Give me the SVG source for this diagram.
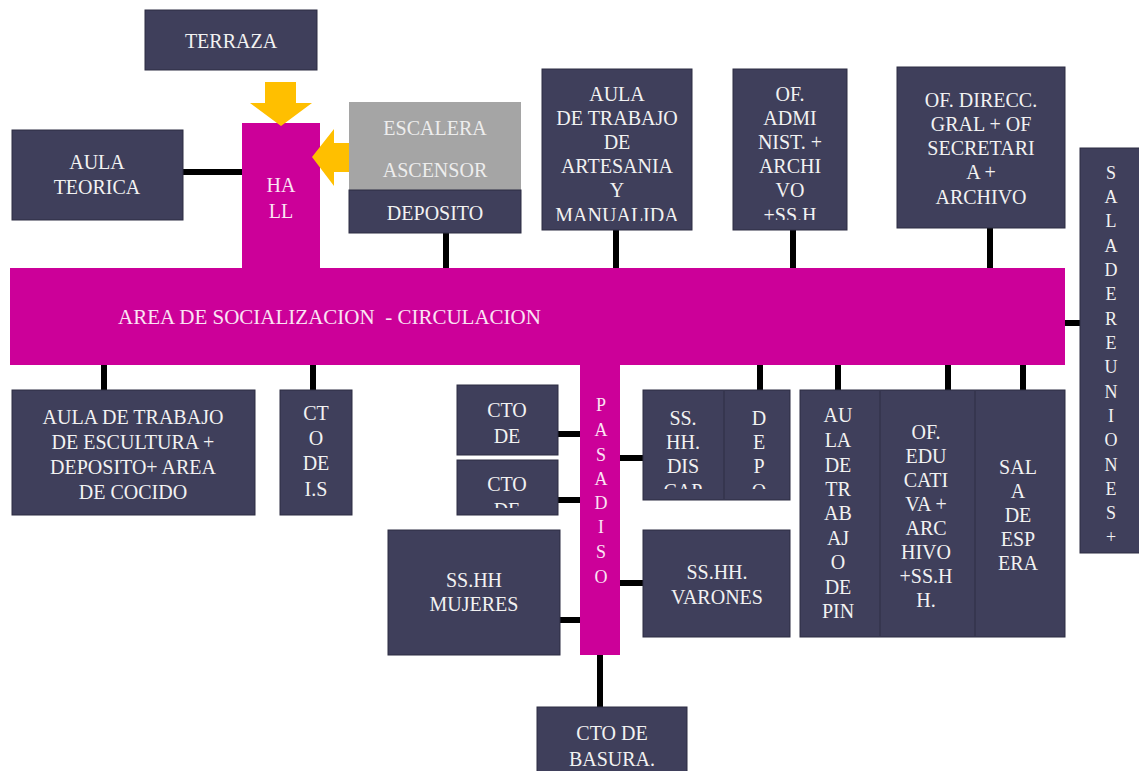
<svg xmlns="http://www.w3.org/2000/svg" width="1139" height="771" viewBox="0 0 1139 771">
<style>
.box{fill:#3f3f5b;stroke:#2c2c42;stroke-width:1}
.mag{fill:#cc0099}
.gray{fill:#a5a5a5}
.t{font-size:20px;fill:#f2f2f2;text-anchor:middle;dominant-baseline:central}
.s{font-size:18px}
.tg{fill:#ededed}
.tm{fill:#fbe3f4}
.arrow{fill:#ffbf00}
.div{stroke:#36364f;stroke-width:2}
.c{stroke:#000;stroke-width:6;fill:none}
</style>
<defs>
<clipPath id="clipArt"><rect x="542" y="69" width="150" height="152"/></clipPath>
<clipPath id="clipAdm"><rect x="733" y="69" width="114" height="151"/></clipPath>
<clipPath id="clipCto2"><rect x="457" y="460" width="101" height="48"/></clipPath>
<clipPath id="clipDis"><rect x="643" y="390" width="147" height="99"/></clipPath>
<clipPath id="clipBas"><rect x="537" y="707" width="150" height="64"/></clipPath>
</defs>
<rect width="1139" height="771" fill="#ffffff"/>

<g id="connectors">
<line class="c" x1="183" y1="172" x2="242" y2="172"/>
<line class="c" x1="446" y1="233" x2="446" y2="268"/>
<line class="c" x1="616" y1="230" x2="616" y2="268"/>
<line class="c" x1="793" y1="230" x2="793" y2="268"/>
<line class="c" x1="990" y1="228" x2="990" y2="268"/>
<line class="c" x1="1065" y1="323" x2="1080" y2="323"/>
<line class="c" x1="104" y1="365" x2="104" y2="390"/>
<line class="c" x1="313" y1="365" x2="313" y2="390"/>
<line class="c" x1="558" y1="434" x2="580" y2="434"/>
<line class="c" x1="558" y1="500" x2="580" y2="500"/>
<line class="c" x1="620" y1="458" x2="643" y2="458"/>
<line class="c" x1="760" y1="365" x2="760" y2="390"/>
<line class="c" x1="620" y1="583" x2="643" y2="583"/>
<line class="c" x1="560" y1="620" x2="580" y2="620"/>
<line class="c" x1="600" y1="655" x2="600" y2="707"/>
<line class="c" x1="838" y1="365" x2="838" y2="390"/>
<line class="c" x1="948" y1="365" x2="948" y2="390"/>
<line class="c" x1="1023" y1="365" x2="1023" y2="390"/>
</g>

<g id="area-socializacion">
<rect class="mag" x="10" y="268" width="1055" height="97"/>
<text font-family="Liberation Serif" class="t tm" x="118" y="317" font-size="21" style="text-anchor:start;font-size:21px" xml:space="preserve">AREA DE SOCIALIZACION  - CIRCULACION</text>
</g>

<g id="hall">
<rect class="mag" x="242" y="123" width="78" height="146"/>
<text font-family="Liberation Serif" class="t tm" x="281" y="185">HA</text>
<text font-family="Liberation Serif" class="t tm" x="281" y="211">LL</text>
</g>

<g id="terraza">
<rect class="box" x="145" y="10" width="172" height="60"/>
<text font-family="Liberation Serif" class="t" x="231" y="41">TERRAZA</text>
</g>

<g id="arrow-terraza">
<polygon class="arrow" points="265,82 296,82 296,103 312,103 281,126 250,103 265,103"/>
</g>

<g id="aula-teorica">
<rect class="box" x="12" y="130" width="171" height="90"/>
<text font-family="Liberation Serif" class="t" x="97" y="162">AULA</text>
<text font-family="Liberation Serif" class="t" x="97" y="187">TEORICA</text>
</g>

<g id="arrow-escalera">
<polygon class="arrow" points="312,157 334,129 334,143 352,143 352,172 334,172 334,186"/>
</g>

<g id="escalera-ascensor">
<rect class="gray" x="349" y="102" width="172" height="88"/>
<text font-family="Liberation Serif" class="t tg" x="435" y="128">ESCALERA</text>
<text font-family="Liberation Serif" class="t tg" x="435" y="170">ASCENSOR</text>
</g>

<g id="deposito">
<rect class="box" x="349" y="190" width="172" height="43"/>
<text font-family="Liberation Serif" class="t" x="435" y="213">DEPOSITO</text>
</g>

<g id="aula-artesania">
<rect class="box" x="542" y="69" width="150" height="161"/>
<g clip-path="url(#clipArt)">
<text font-family="Liberation Serif" class="t" x="617" y="94">AULA</text>
<text font-family="Liberation Serif" class="t" x="617" y="118">DE TRABAJO</text>
<text font-family="Liberation Serif" class="t" x="617" y="142">DE</text>
<text font-family="Liberation Serif" class="t" x="617" y="166">ARTESANIA</text>
<text font-family="Liberation Serif" class="t" x="617" y="190">Y</text>
<text font-family="Liberation Serif" class="t" x="617" y="215">MANUALIDA</text>
</g>
</g>

<g id="of-administ">
<rect class="box" x="733" y="69" width="114" height="161"/>
<g clip-path="url(#clipAdm)">
<text font-family="Liberation Serif" class="t" x="790" y="94">OF.</text>
<text font-family="Liberation Serif" class="t" x="790" y="118">ADMI</text>
<text font-family="Liberation Serif" class="t" x="790" y="142">NIST. +</text>
<text font-family="Liberation Serif" class="t" x="790" y="166">ARCHI</text>
<text font-family="Liberation Serif" class="t" x="790" y="190">VO</text>
<text font-family="Liberation Serif" class="t" x="790" y="215">+SS.H</text>
</g>
</g>

<g id="of-direcc">
<rect class="box" x="897" y="67" width="168" height="161"/>
<text font-family="Liberation Serif" class="t" x="981" y="100">OF. DIRECC.</text>
<text font-family="Liberation Serif" class="t" x="981" y="124">GRAL + OF</text>
<text font-family="Liberation Serif" class="t" x="981" y="148">SECRETARI</text>
<text font-family="Liberation Serif" class="t" x="981" y="172">A +</text>
<text font-family="Liberation Serif" class="t" x="981" y="197">ARCHIVO</text>
</g>

<g id="sala-reuniones">
<rect class="box" x="1080" y="148" width="62" height="405"/>
<text font-family="Liberation Serif" class="t s" x="1111" y="173">S</text>
<text font-family="Liberation Serif" class="t s" x="1111" y="197">A</text>
<text font-family="Liberation Serif" class="t s" x="1111" y="221">L</text>
<text font-family="Liberation Serif" class="t s" x="1111" y="246">A</text>
<text font-family="Liberation Serif" class="t s" x="1111" y="270">D</text>
<text font-family="Liberation Serif" class="t s" x="1111" y="294">E</text>
<text font-family="Liberation Serif" class="t s" x="1111" y="319">R</text>
<text font-family="Liberation Serif" class="t s" x="1111" y="343">E</text>
<text font-family="Liberation Serif" class="t s" x="1111" y="367">U</text>
<text font-family="Liberation Serif" class="t s" x="1111" y="392">N</text>
<text font-family="Liberation Serif" class="t s" x="1111" y="416">I</text>
<text font-family="Liberation Serif" class="t s" x="1111" y="440">O</text>
<text font-family="Liberation Serif" class="t s" x="1111" y="465">N</text>
<text font-family="Liberation Serif" class="t s" x="1111" y="489">E</text>
<text font-family="Liberation Serif" class="t s" x="1111" y="513">S</text>
<text font-family="Liberation Serif" class="t s" x="1111" y="537">+</text>
</g>

<g id="aula-escultura">
<rect class="box" x="12" y="390" width="243" height="125"/>
<text font-family="Liberation Serif" class="t" x="133" y="417">AULA DE TRABAJO</text>
<text font-family="Liberation Serif" class="t" x="133" y="442">DE ESCULTURA +</text>
<text font-family="Liberation Serif" class="t" x="133" y="467">DEPOSITO+ AREA</text>
<text font-family="Liberation Serif" class="t" x="133" y="492">DE COCIDO</text>
</g>

<g id="cto-is">
<rect class="box" x="280" y="390" width="72" height="125"/>
<text font-family="Liberation Serif" class="t" x="316" y="413">CT</text>
<text font-family="Liberation Serif" class="t" x="316" y="438">O</text>
<text font-family="Liberation Serif" class="t" x="316" y="463">DE</text>
<text font-family="Liberation Serif" class="t" x="316" y="489">I.S</text>
</g>

<g id="pasadiso">
<rect class="mag" x="580" y="365" width="40" height="290"/>
<text font-family="Liberation Serif" class="t s tm" x="601" y="405">P</text>
<text font-family="Liberation Serif" class="t s tm" x="601" y="430">A</text>
<text font-family="Liberation Serif" class="t s tm" x="601" y="455">S</text>
<text font-family="Liberation Serif" class="t s tm" x="601" y="479">A</text>
<text font-family="Liberation Serif" class="t s tm" x="601" y="503">D</text>
<text font-family="Liberation Serif" class="t s tm" x="601" y="527">I</text>
<text font-family="Liberation Serif" class="t s tm" x="601" y="552">S</text>
<text font-family="Liberation Serif" class="t s tm" x="601" y="577">O</text>
</g>

<g id="cto-de-1">
<rect class="box" x="457" y="385" width="101" height="70"/>
<text font-family="Liberation Serif" class="t" x="507" y="410">CTO</text>
<text font-family="Liberation Serif" class="t" x="507" y="436">DE</text>
</g>

<g id="cto-de-2">
<rect class="box" x="457" y="460" width="101" height="55"/>
<g clip-path="url(#clipCto2)">
<text font-family="Liberation Serif" class="t" x="507" y="484">CTO</text>
<text font-family="Liberation Serif" class="t" x="507" y="510">DE</text>
</g>
</g>

<g id="sshh-discap-depo">
<rect class="box" x="643" y="390" width="147" height="110"/>
<line class="div" x1="724" y1="391" x2="724" y2="499"/>
<g clip-path="url(#clipDis)">
<text font-family="Liberation Serif" class="t" x="683" y="418">SS.</text>
<text font-family="Liberation Serif" class="t" x="683" y="442">HH.</text>
<text font-family="Liberation Serif" class="t" x="683" y="466">DIS</text>
<text font-family="Liberation Serif" class="t" x="683" y="491">CAP</text>
<text font-family="Liberation Serif" class="t" x="759" y="418">D</text>
<text font-family="Liberation Serif" class="t" x="759" y="442">E</text>
<text font-family="Liberation Serif" class="t" x="759" y="466">P</text>
<text font-family="Liberation Serif" class="t" x="759" y="491">O</text>
</g>
</g>

<g id="sshh-mujeres">
<rect class="box" x="388" y="530" width="172" height="125"/>
<text font-family="Liberation Serif" class="t" x="474" y="580">SS.HH</text>
<text font-family="Liberation Serif" class="t" x="474" y="604">MUJERES</text>
</g>

<g id="sshh-varones">
<rect class="box" x="643" y="530" width="147" height="107"/>
<text font-family="Liberation Serif" class="t" x="717" y="572">SS.HH.</text>
<text font-family="Liberation Serif" class="t" x="717" y="597">VARONES</text>
</g>

<g id="cto-basura">
<rect class="box" x="537" y="707" width="150" height="70"/>
<g clip-path="url(#clipBas)">
<text font-family="Liberation Serif" class="t" x="612" y="733">CTO DE</text>
<text font-family="Liberation Serif" class="t" x="612" y="759">BASURA.</text>
</g>
</g>

<g id="bloque-derecho">
<rect class="box" x="800" y="390" width="265" height="247"/>
<line class="div" x1="880" y1="391" x2="880" y2="636"/>
<line class="div" x1="975" y1="391" x2="975" y2="636"/>
</g>

<g id="aula-pintura">
<text font-family="Liberation Serif" class="t" x="838" y="415">AU</text>
<text font-family="Liberation Serif" class="t" x="838" y="440">LA</text>
<text font-family="Liberation Serif" class="t" x="838" y="465">DE</text>
<text font-family="Liberation Serif" class="t" x="838" y="489">TR</text>
<text font-family="Liberation Serif" class="t" x="838" y="513">AB</text>
<text font-family="Liberation Serif" class="t" x="838" y="538">AJ</text>
<text font-family="Liberation Serif" class="t" x="838" y="562">O</text>
<text font-family="Liberation Serif" class="t" x="838" y="587">DE</text>
<text font-family="Liberation Serif" class="t" x="838" y="611">PIN</text>
</g>

<g id="of-educativa">
<text font-family="Liberation Serif" class="t" x="926" y="432">OF.</text>
<text font-family="Liberation Serif" class="t" x="926" y="456">EDU</text>
<text font-family="Liberation Serif" class="t" x="926" y="480">CATI</text>
<text font-family="Liberation Serif" class="t" x="926" y="504">VA +</text>
<text font-family="Liberation Serif" class="t" x="926" y="528">ARC</text>
<text font-family="Liberation Serif" class="t" x="926" y="552">HIVO</text>
<text font-family="Liberation Serif" class="t" x="926" y="576">+SS.H</text>
<text font-family="Liberation Serif" class="t" x="926" y="600">H.</text>
</g>

<g id="sala-espera">
<text font-family="Liberation Serif" class="t" x="1018" y="467">SAL</text>
<text font-family="Liberation Serif" class="t" x="1018" y="491">A</text>
<text font-family="Liberation Serif" class="t" x="1018" y="515">DE</text>
<text font-family="Liberation Serif" class="t" x="1018" y="539">ESP</text>
<text font-family="Liberation Serif" class="t" x="1018" y="563">ERA</text>
</g>
</svg>
